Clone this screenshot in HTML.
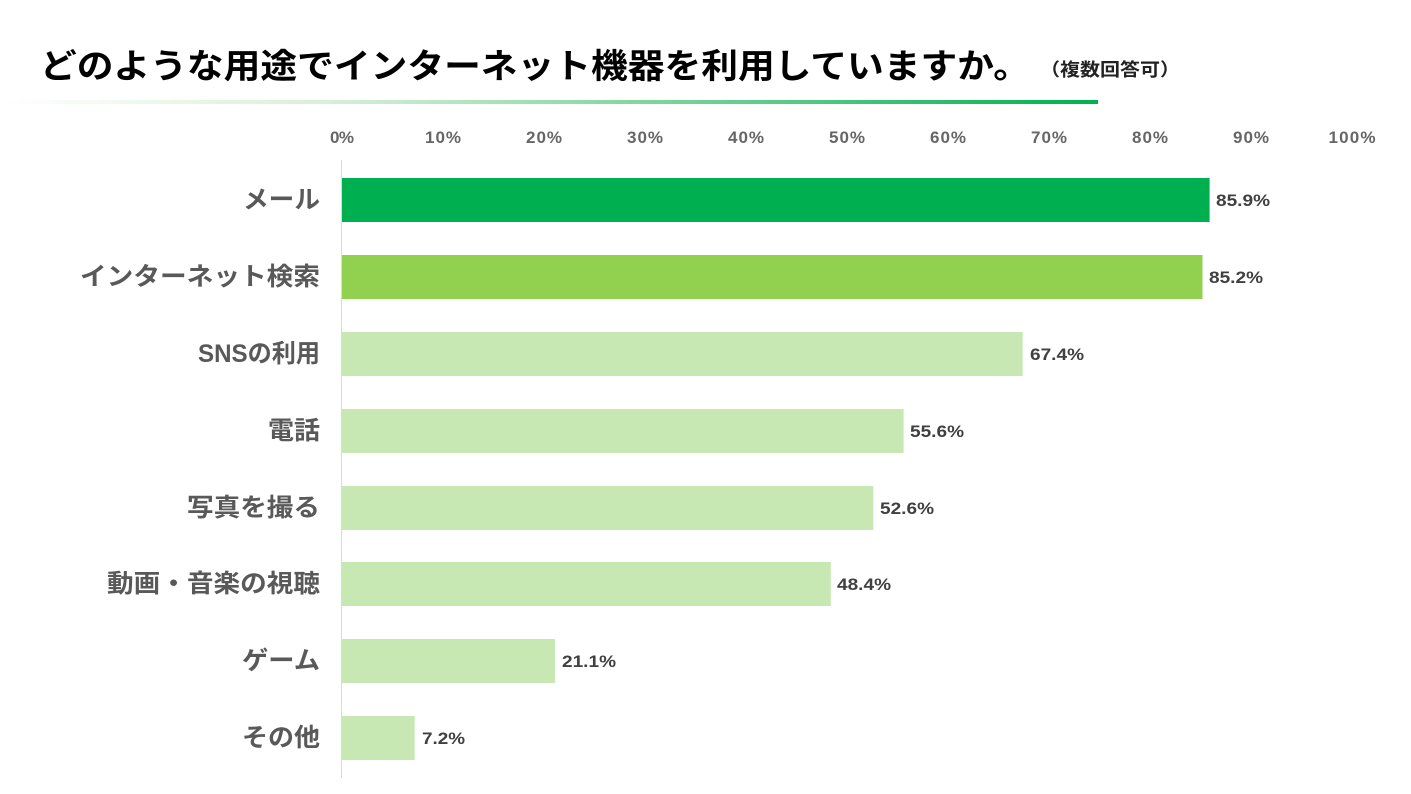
<!DOCTYPE html>
<html><head><meta charset="utf-8"><style>
html,body{margin:0;padding:0;background:#fff;}
svg{display:block;}
text{font-family:"Liberation Sans","Noto Sans CJK JP",sans-serif;font-weight:bold;}
</style></head><body>
<svg width="1411" height="794" viewBox="0 0 1411 794">
<defs><linearGradient id="g" x1="0" x2="1"><stop offset="0" stop-color="#ffffff"/><stop offset="0.3" stop-color="#d8efd8"/><stop offset="1" stop-color="#00b050"/></linearGradient></defs>
<text x="40" y="78" font-size="34" fill="#000" textLength="990" lengthAdjust="spacingAndGlyphs">どのような用途でインターネット機器を利用していますか。</text>
<text x="1040" y="76" font-size="18" fill="#222" textLength="140" lengthAdjust="spacingAndGlyphs">（複数回答可）</text>
<rect x="0" y="100" width="1098" height="4" fill="url(#g)"/>
<g font-size="17" fill="#666" text-anchor="middle" lengthAdjust="spacingAndGlyphs">
<text x="342" y="143" textLength="24">0%</text><text x="443" y="143" textLength="36">10%</text><text x="544" y="143" textLength="36">20%</text><text x="645" y="143" textLength="36">30%</text><text x="746" y="143" textLength="36">40%</text><text x="847" y="143" textLength="36">50%</text><text x="948" y="143" textLength="36">60%</text><text x="1049" y="143" textLength="36">70%</text><text x="1150" y="143" textLength="36">80%</text><text x="1251" y="143" textLength="36">90%</text><text x="1352" y="143" textLength="47">100%</text>
</g>
<line x1="341.5" y1="160" x2="341.5" y2="778" stroke="#d9d9d9" stroke-width="1"/>
<g>
<rect x="342" y="178" width="867.6" height="44" fill="#00b050"/>
<rect x="342" y="255" width="860.5" height="44" fill="#92d050"/>
<rect x="342" y="332" width="680.7" height="44" fill="#c8e8b3"/>
<rect x="342" y="409" width="561.6" height="44" fill="#c8e8b3"/>
<rect x="342" y="486" width="531.3" height="44" fill="#c8e8b3"/>
<rect x="342" y="562" width="488.8" height="44" fill="#c8e8b3"/>
<rect x="342" y="639" width="213.1" height="44" fill="#c8e8b3"/>
<rect x="342" y="716" width="72.7" height="44" fill="#c8e8b3"/>
</g>
<g font-size="17" fill="#404040">
<text x="1216" y="206" textLength="54" lengthAdjust="spacingAndGlyphs">85.9%</text><text x="1209" y="283" textLength="54" lengthAdjust="spacingAndGlyphs">85.2%</text><text x="1030" y="360" textLength="54" lengthAdjust="spacingAndGlyphs">67.4%</text><text x="910" y="437" textLength="54" lengthAdjust="spacingAndGlyphs">55.6%</text><text x="880" y="514" textLength="54" lengthAdjust="spacingAndGlyphs">52.6%</text><text x="837" y="590" textLength="54" lengthAdjust="spacingAndGlyphs">48.4%</text><text x="562" y="667" textLength="54" lengthAdjust="spacingAndGlyphs">21.1%</text><text x="422" y="744" textLength="43" lengthAdjust="spacingAndGlyphs">7.2%</text>
</g>
<g font-size="25" fill="#595959">
<text x="243" y="208" textLength="77" lengthAdjust="spacingAndGlyphs">メール</text>
<text x="80" y="285" textLength="240" lengthAdjust="spacingAndGlyphs">インターネット検索</text>
<text x="198" y="362" textLength="122" lengthAdjust="spacingAndGlyphs">SNSの利用</text>
<text x="268" y="439" textLength="52" lengthAdjust="spacingAndGlyphs">電話</text>
<text x="187" y="516" textLength="133" lengthAdjust="spacingAndGlyphs">写真を撮る</text>
<text x="107" y="592" textLength="213" lengthAdjust="spacingAndGlyphs">動画・音楽の視聴</text>
<text x="242" y="669" textLength="78" lengthAdjust="spacingAndGlyphs">ゲーム</text>
<text x="242" y="746" textLength="78" lengthAdjust="spacingAndGlyphs">その他</text>
</g>
</svg>
</body></html>
